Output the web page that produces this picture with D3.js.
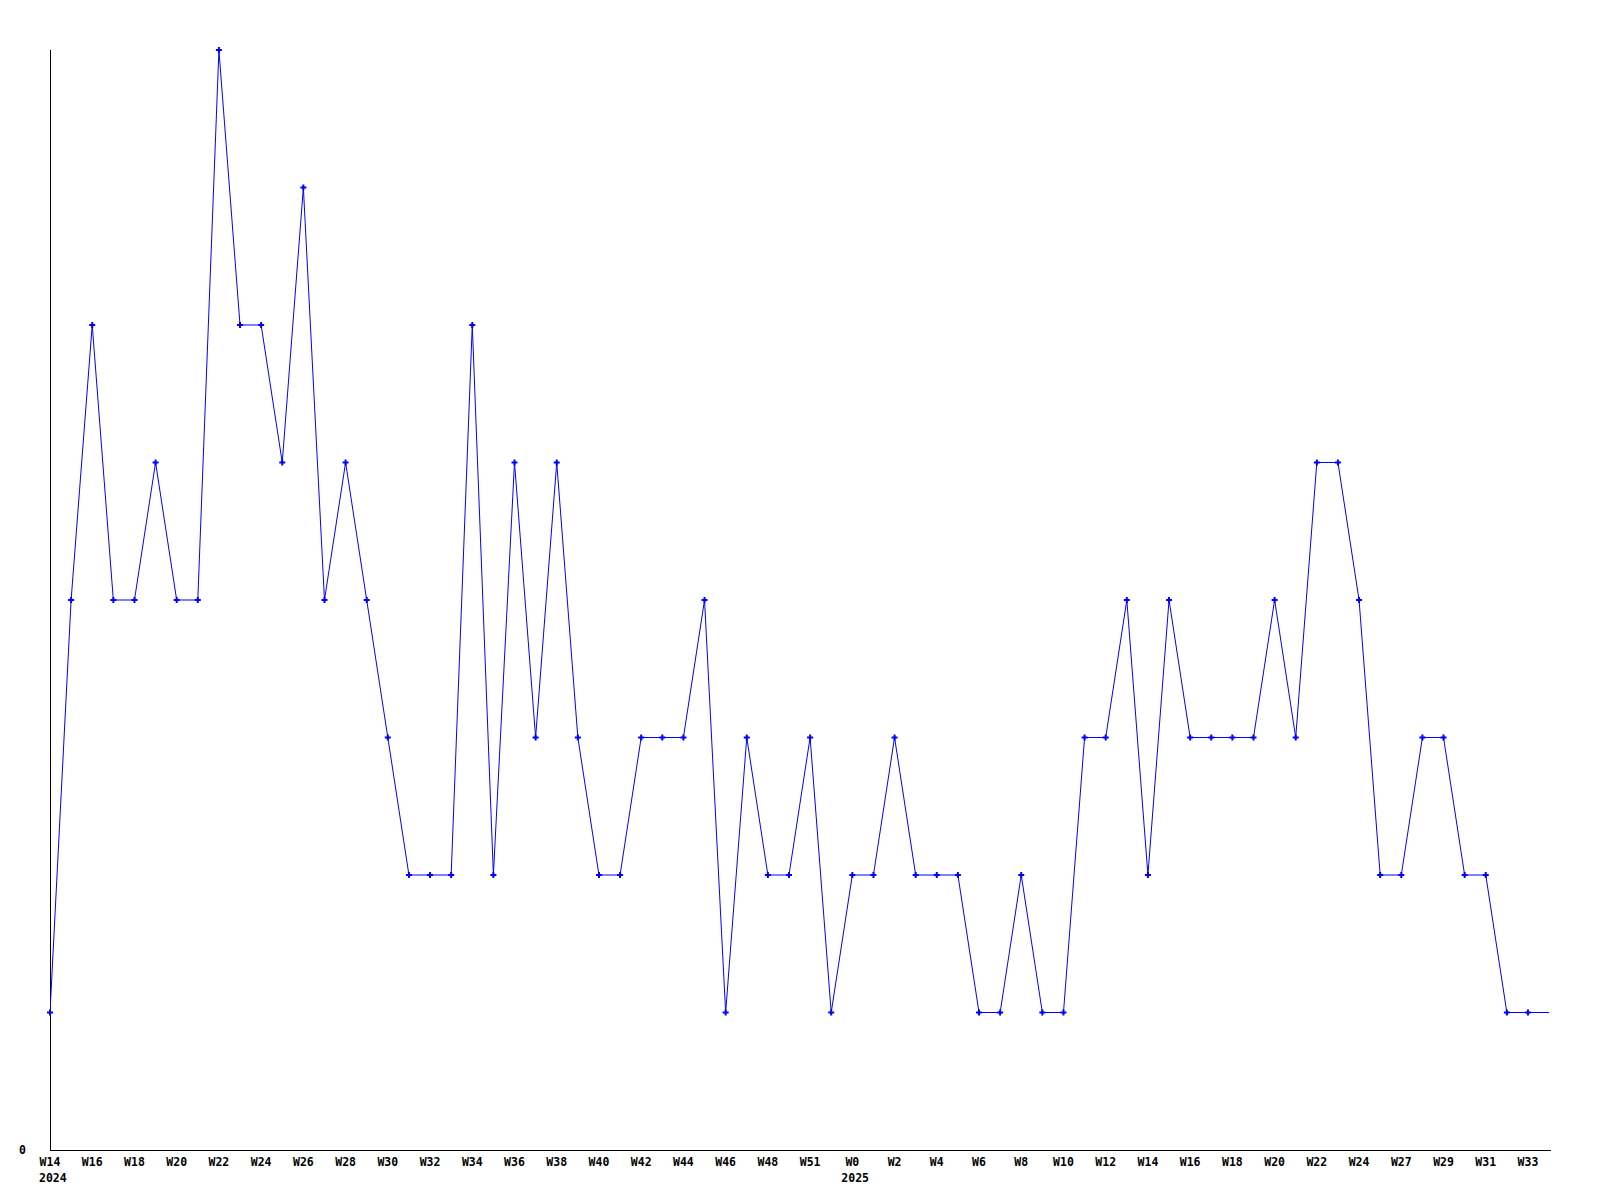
<!DOCTYPE html>
<html>
<head>
<meta charset="utf-8">
<script src="https://cdn.jsdelivr.net/npm/d3@7"></script>
<style>
  html, body { margin: 0; padding: 0; background: #fff; }
  svg { display: block; }
  text { font-family: "DejaVu Sans Mono", "Liberation Mono", monospace; font-weight: bold; font-size: 11.5px; fill: #000; }
</style>
</head>
<body>
<svg id="chart" width="1600" height="1200"></svg>
<script>
// Weekly counts, one point per week starting 2024 W14
const values = [1,4,6,4,4,5,4,4,8,6,6,5,7,4,5,4,3,2,2,2,6,2,5,3,5,3,2,2,3,3,3,4,1,3,2,2,3,1,2,2,3,2,2,2,1,1,2,1,1,3,3,4,2,4,3,3,3,3,4,3,5,5,4,2,2,3,3,2,2,1,1,1];
// Tick labels placed on every second point
const tickLabels = ["W14","W16","W18","W20","W22","W24","W26","W28","W30","W32","W34","W36","W38","W40","W42","W44","W46","W48","W51","W0","W2","W4","W6","W8","W10","W12","W14","W16","W18","W20","W22","W24","W27","W29","W31","W33"];
const yearLabels = [{index: 0, label: "2024"}, {index: 38, label: "2025"}];
const yTickValues = [0];

(function () {
const svg = d3.select("#chart");
const mLeft = 50, mTop = 50, mRight = 1550, mBottom = 1150;

const x = d3.scaleLinear().domain([0, 70]).range([mLeft, 50 + 70 * 21.114]);
const y = d3.scaleLinear().domain([0, 8]).range([mBottom, mTop]);

const defs = svg.append("defs");
defs.append("clipPath").attr("id", "clip")
  .append("rect").attr("x", mLeft).attr("y", 0).attr("width", mRight - mLeft).attr("height", 1200);
defs.append("clipPath").attr("id", "clipm")
  .append("rect").attr("x", 0).attr("y", 0).attr("width", 1540).attr("height", 1200);

// axes lines
svg.append("line").attr("x1", mLeft + 0.5).attr("x2", mLeft + 0.5).attr("y1", mTop).attr("y2", mBottom)
  .attr("stroke", "#000").attr("stroke-width", 1).attr("shape-rendering", "crispEdges");
svg.append("line").attr("x1", mLeft).attr("x2", mRight + 1).attr("y1", mBottom + 0.5).attr("y2", mBottom + 0.5)
  .attr("stroke", "#000").attr("stroke-width", 1).attr("shape-rendering", "crispEdges");

// y tick labels
svg.selectAll("text.ytick").data(yTickValues).enter().append("text")
  .attr("class", "ytick").attr("x", 26).attr("y", d => y(d) + 4)
  .attr("text-anchor", "end").text(d => d);

// x tick labels
svg.selectAll("text.xtick").data(tickLabels).enter().append("text")
  .attr("class", "xtick").attr("x", (d, i) => x(i * 2)).attr("y", 1166)
  .attr("text-anchor", "middle").text(d => d);

svg.selectAll("text.year").data(yearLabels).enter().append("text")
  .attr("class", "year").attr("x", d => x(d.index) - 11).attr("y", 1182)
  .attr("text-anchor", "start").text(d => d.label);

// line
const line = d3.line().x((d, i) => x(i)).y(d => y(d));
svg.append("path").datum(values).attr("d", line)
  .attr("fill", "none").attr("stroke", "#0000ff").attr("stroke-width", 1)
  .attr("clip-path", "url(#clip)");

// markers
const sym = d3.symbol().type(d3.symbolCross).size(20);
svg.append("g").attr("clip-path", "url(#clipm)")
  .selectAll("path.m").data(values).enter().append("path")
  .attr("class", "m")
  .attr("transform", (d, i) => `translate(${x(i)},${y(d)})`)
  .attr("d", sym).attr("fill", "#0000ff");
})();
</script>
</body>
</html>
